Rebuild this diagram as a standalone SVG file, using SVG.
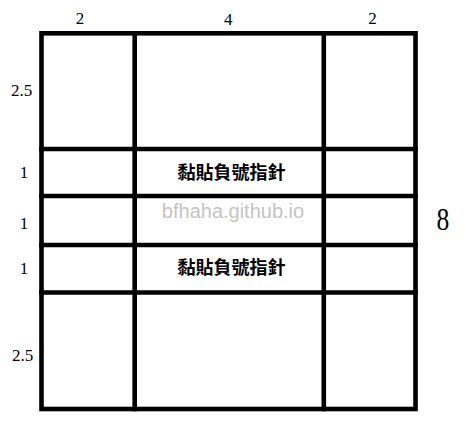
<svg xmlns="http://www.w3.org/2000/svg" width="466" height="429" viewBox="0 0 466 429">
<style>
.grid{fill:none;stroke:#000;stroke-width:4.6;stroke-linecap:square}
.dim{font-family:"Liberation Serif",serif;font-size:17px;fill:#000;text-anchor:middle}
.cjk{font-family:"Noto Sans CJK TC",sans-serif;font-size:18px;font-weight:bold;fill:#000;text-anchor:middle}
.wm{font-family:"Liberation Sans",Arial,sans-serif;font-size:20px;fill:#c4c4c4;text-anchor:middle}
</style>
<rect width="466" height="429" fill="#fff"/>
<g id="grid">
<rect class="grid" x="41.5" y="33.3" width="374" height="375.7"/>
<path class="grid" d="M134.7 33.3V409M323.8 33.3V409M41.5 149H415.5M41.5 196H415.5M41.5 245H415.5M41.5 292.5H415.5"/>
</g>
<g id="col-labels">
<text class="dim" x="80" y="23.5">2</text>
<text class="dim" x="228.3" y="24.5">4</text>
<text class="dim" x="372.5" y="23.5">2</text>
</g>
<g id="row-labels">
<text class="dim" x="21.5" y="95.5">2.5</text>
<text class="dim" x="24" y="177.5">1</text>
<text class="dim" x="24" y="228.5">1</text>
<text class="dim" x="24" y="274">1</text>
<text class="dim" x="22.5" y="360.5">2.5</text>
</g>
<text class="dim" transform="translate(443,230) scale(0.8,1)" style="font-size:32px">8</text>
<g id="cell-1"><text class="cjk" x="231.5" y="178.5">黏貼負號指針</text></g>
<text class="wm" x="233" y="218">bfhaha.github.io</text>
<g id="cell-2"><text class="cjk" x="231.5" y="273.5">黏貼負號指針</text></g>
</svg>
